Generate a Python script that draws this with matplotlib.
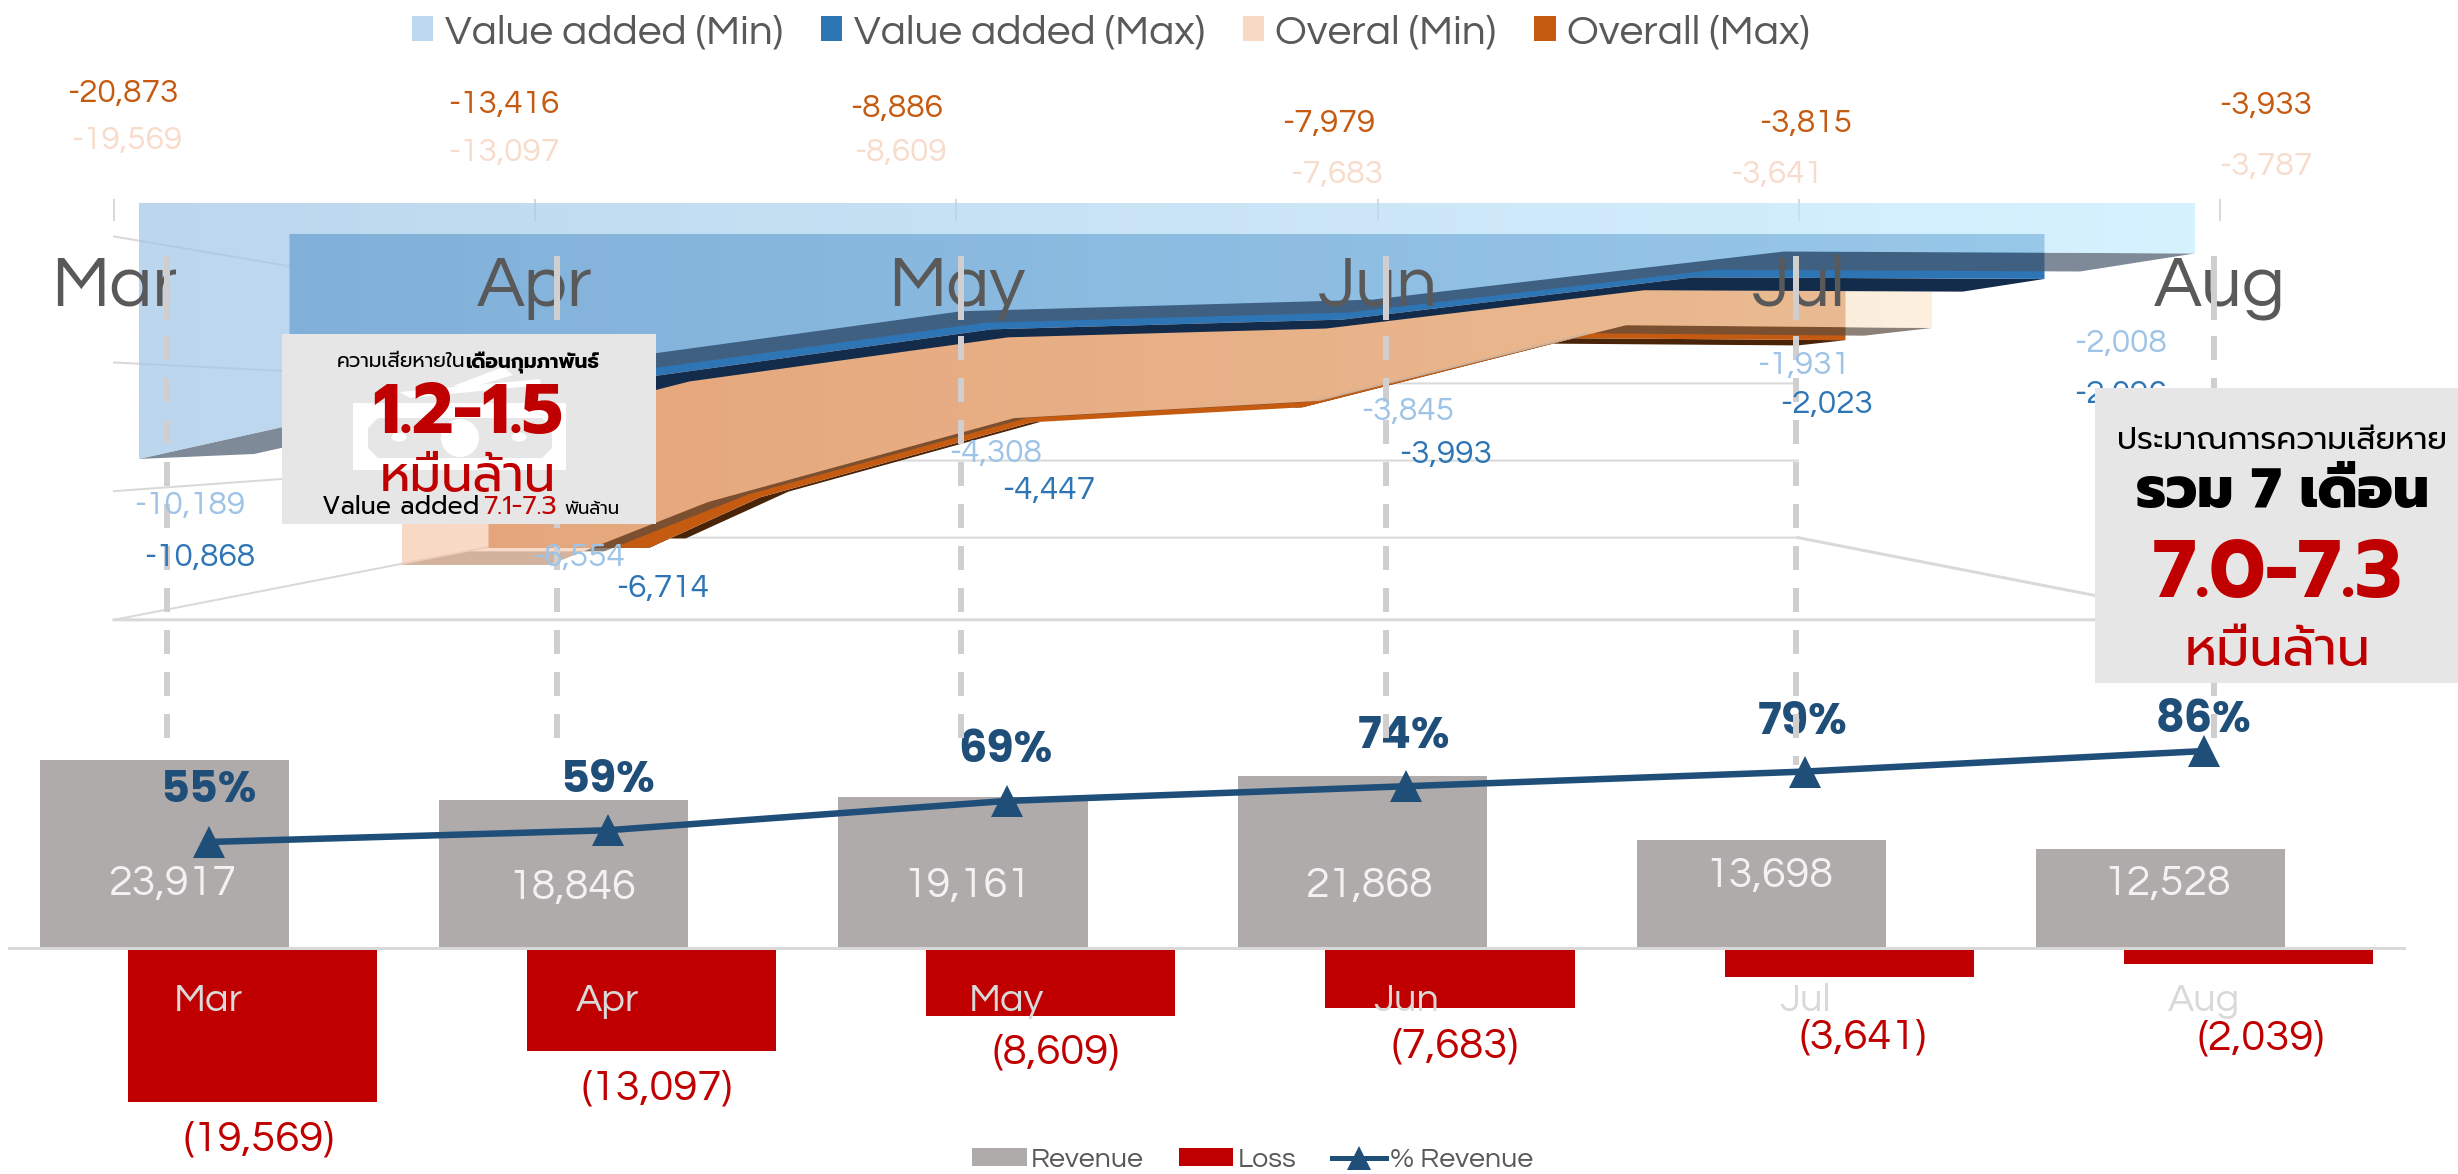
import numpy as np
import matplotlib
matplotlib.use('Agg')
import matplotlib.pyplot as plt
from matplotlib.patches import Polygon, Rectangle, Circle, Ellipse, Patch
from matplotlib.lines import Line2D

# ---------- data ----------
months = ['Mar', 'Apr', 'May', 'Jun', 'Jul', 'Aug']
revenue = [23917, 18846, 19161, 21868, 13698, 12528]
loss = [-19569, -13097, -8609, -7683, -3641, -2039]
pct_revenue = [55, 59, 69, 74, 79, 86]
va_min = [-10189, -6554, -4308, -3845, -1931, -2008]
va_max = [-10868, -6714, -4447, -3993, -2023, -2096]
overall_min = [-19569, -13097, -8609, -7683, -3641, -3787]
overall_max = [-20873, -13416, -8886, -7979, -3815, -3933]
grid_values = [1500, 6400, 11400, 16400]
floor_value = 16450

# ---------- fonts / figure ----------
W_PX, H_PX = 2458, 1174
GOTH = ['Questrial', 'Didact Gothic', 'Lato']
BOLD = ['Poppins', 'Lato']
THAI = ['Prompt', 'Kanit', 'DejaVu Sans']
plt.rcParams['font.family'] = GOTH
fig = plt.figure(figsize=(W_PX / 100, H_PX / 100), dpi=100, facecolor='white')
px = 0.72  # points per pixel at dpi 100


def pixel_axes(z):
    a = fig.add_axes([0, 0, 1, 1], zorder=z)
    a.set_axis_off()
    a.patch.set_alpha(0)
    a.set_xlim(0, W_PX)
    a.set_ylim(H_PX, 0)
    return a


ax3d = pixel_axes(1)
ax_top = pixel_axes(5)

# ---------- perspective of the 3-D area chart ----------
CX, W0, TOP0, K, S0 = 1167, 2056, 203, 0.103, 0.02512 / 2056


def plane(W):
    return CX - W / 2, W / 5, TOP0 + (W0 - W) * K, S0 * W


def bottom_edge(series, W):
    left, step, top, scale = plane(W)
    t = np.linspace(0, 5, 1001)
    v = np.minimum(np.interp(t, np.arange(6), np.abs(series)), floor_value)
    return np.column_stack([left + step * t, top + scale * v])


def wall_y(val, W):
    _, _, top, scale = plane(W)
    return top + scale * val


def ribbon_front(series, W):
    left, step, top, _ = plane(W)
    e = bottom_edge(series, W)
    return np.vstack([[left, top], [left + 5 * step, top], e[::-1]])


def ribbon_under(series, W, Wb):
    return np.vstack([bottom_edge(series, W), bottom_edge(series, Wb)[::-1]])


def grad_poly(ax, verts, c0, c1, alpha, z):
    x0, x1 = verts[:, 0].min(), verts[:, 0].max()
    y0, y1 = verts[:, 1].min(), verts[:, 1].max()
    arr = np.zeros((2, 256, 4))
    for c in range(3):
        arr[:, :, c] = np.linspace(c0[c], c1[c], 256) / 255
    arr[:, :, 3] = alpha
    im = ax.imshow(arr, extent=(x0, x1, y1, y0), aspect='auto', zorder=z,
                   interpolation='bilinear')
    p = Polygon(verts, closed=True, transform=ax.transData, fc='none', ec='none')
    im.set_clip_path(p)


# walls
GRID = '#D9D9D9'
WF, WB = 2106, 1262
lf, _, _, _ = plane(WF)
lb, _, _, _ = plane(WB)
rb, rf = 2 * CX - lb, 2 * CX - lf
for g in grid_values:
    ax3d.plot([lf, lb, rb], [wall_y(g, WF), wall_y(g, WB), wall_y(g, WB)],
              color=GRID, lw=2 * px, zorder=1, solid_joinstyle='miter')
ax3d.plot([rb, rf, lf], [wall_y(grid_values[-1], WB), wall_y(grid_values[-1], WF),
                         wall_y(grid_values[-1], WF)],
          color=GRID, lw=3 * px, zorder=1)
# axis ticks at the top
for i in range(6):
    x = lf + i * WF / 5
    ax3d.plot([x, x], [200, 220], color=GRID, lw=2 * px, zorder=1)

# ribbons, back to front
ax3d.add_patch(Polygon(ribbon_under(overall_max, 1357, 1262), fc='#4A2408', ec='none', zorder=2))
ax3d.add_patch(Polygon(ribbon_front(overall_max, 1357), fc='#C55A11', ec='none', zorder=3))
ax3d.add_patch(Polygon(ribbon_under(overall_min, 1530, 1394), fc=(91/255, 76/255, 62/255, .7), ec='none', zorder=4))
grad_poly(ax3d, ribbon_front(overall_min, 1530), (245, 200, 172), (252, 233, 208), .69, 5)
ax3d.add_patch(Polygon(ribbon_under(va_max, 1755, 1591), fc='#132C4C', ec='none', zorder=6))
ax3d.add_patch(Polygon(ribbon_front(va_max, 1755), fc='#2E75B6', ec='none', zorder=7))
ax3d.add_patch(Polygon(ribbon_under(va_min, 2056, 1826), fc=(72/255, 88/255, 108/255, .7), ec='none', zorder=8))
grad_poly(ax3d, ribbon_front(va_min, 2056), (161, 198, 231), (199, 237, 255), .71, 9)
ax3d.set_xlim(0, W_PX)
ax3d.set_ylim(H_PX, 0)

# big month labels of the 3-D chart
for i, m in enumerate(months):
    ax3d.text(lf + i * WF / 5, 287, m, fontsize=52, color='#595959', ha='center',
              va='center', zorder=10)


def T(x, y, s, size, color, fam=GOTH, weight='normal', ha='center', z=4, a=ax_top, va='center'):
    return a.text(x, y, s, fontsize=size, color=color, family=fam, fontweight=weight,
                  ha=ha, va=va, zorder=z)


# ---------- dashed guides ----------
DASH = '#D0CECE'
guide_x = [167, 557, 961, 1386, 1796, 2214]
guide_end = [740, 740, 740, 746, 765, 740]
for x, y1 in zip(guide_x, guide_end):
    ax_top.plot([x, x], [256, 320], color=DASH, lw=6 * px, solid_capstyle='butt', zorder=3)
    ax_top.plot([x, x], [336, y1], color=DASH, lw=6 * px, zorder=3,
                linestyle=(0, (4, 3)), dash_capstyle='butt')

# ---------- labels of the 3-D chart ----------
FS = 24
omax_xy = [(123, 94), (504, 105), (897, 109), (1329, 124), (1806, 124), (2266, 106)]
omin_xy = [(127, 141), (504, 153), (900, 153), (1337, 175), (1777, 175), (2266, 167)]
vmin_xy = [(190, 506), (579, 558), (996, 454), (1408, 412), (1804, 366), (2121, 344)]
vmax_xy = [(200, 558), (663, 589), (1049, 491), (1446, 455), (1827, 405), (2121, 395)]
for series, xy, col in [(overall_max, omax_xy, '#C55A11'), (overall_min, omin_xy, '#F8DCCB'),
                        (va_min, vmin_xy, '#9DC3E6'), (va_max, vmax_xy, '#2E75B6')]:
    for v, (x, y) in zip(series, xy):
        T(x, y, f'{v:,}', FS, col)

# ---------- bars and line ----------
ZERO_Y, PX_UNIT, A_TOP, A_BOT = 948, 0.00787, 700, 1120
ax_b = fig.add_axes([9 / W_PX, 1 - A_BOT / H_PX, 2395 / W_PX, (A_BOT - A_TOP) / H_PX], zorder=2)
ax_b.patch.set_alpha(0)
ax_b.set_xlim(0, 6)
ax_b.set_ylim(-(A_BOT - ZERO_Y) / PX_UNIT, (ZERO_Y - A_TOP) / PX_UNIT)
xc = np.arange(6) + 0.5
ax_b.bar(xc - 0.11, revenue, width=0.624, color='#AFABAB', zorder=1, label='Revenue')
ax_b.bar(xc + 0.11, loss, width=0.624, color='#C00000', zorder=1, label='Loss')
for s in ['top', 'left', 'right']:
    ax_b.spines[s].set_visible(False)
ax_b.spines['bottom'].set_position(('data', 0))
ax_b.spines['bottom'].set_color(GRID)
ax_b.spines['bottom'].set_linewidth(3 * px)
ax_b.set_yticks([])
ax_b.set_xticks(xc, months)
ax_b.tick_params(axis='x', length=0, pad=25, labelsize=28.5, labelcolor='#D9D9D9')

ax_l = ax_b.twinx()
ax_l.set_zorder(3)
ax_l.patch.set_alpha(0)
ax_l.set_axis_off()
PCT_PX = 2.935
ax_l.set_ylim(55 - (A_BOT - 842) / PCT_PX, 55 + (842 - A_TOP) / PCT_PX)
ax_l.plot(xc, pct_revenue, color='#1F4E79', lw=6.5 * px, marker='^', ms=32 * px, mew=0, zorder=5)

rev_xy = [(172, 885), (572, 888), (967, 886), (1369, 886), (1769, 876), (2167, 885)]
for v, (x, y) in zip(revenue, rev_xy):
    T(x, y, f'{v:,}', 31, '#F2F2F2')
loss_xy = [(259, 1140), (657, 1089), (1056, 1053), (1455, 1047), (1863, 1038), (2261, 1039)]
for v, (x, y) in zip(loss, loss_xy):
    T(x, y, f'({abs(v):,})', 31.5, '#C00000')
pct_xy = [(208, 792), (608, 781), (1005, 752), (1404, 737), (1803, 723), (2203, 721)]
for v, (x, y) in zip(pct_revenue, pct_xy):
    T(x, y, f'{v}%', 32, '#1F4E79', fam=BOLD, weight='bold', z=2)

# ---------- legends ----------
h_top = [Patch(fc='#BDD7EE'), Patch(fc='#2E75B6'), Patch(fc='#F8D9C5'), Patch(fc='#C55A11')]
leg = fig.legend(h_top, ['Value added (Min)', 'Value added (Max)', 'Overal (Min)', 'Overall (Max)'],
                 ncol=4, loc='center', bbox_to_anchor=(1111 / W_PX, 1 - 33 / H_PX), frameon=False,
                 fontsize=30.5, labelcolor='#595959', handlelength=0.5, handleheight=0.5,
                 handletextpad=0.27, columnspacing=0.9, borderpad=0, borderaxespad=0)
h_bot = [Patch(fc='#AFABAB'), Patch(fc='#C00000'),
         Line2D([], [], color='#1F4E79', lw=5 * px, marker='^', ms=24 * px, mew=0)]
leg2 = fig.legend(h_bot, ['Revenue', 'Loss', '% Revenue'], ncol=3, loc='center',
                  bbox_to_anchor=(1253 / W_PX, 1 - 1160 / H_PX), frameon=False, fontsize=20.5,
                  labelcolor='#595959', handlelength=1.9, handleheight=0.6, handletextpad=0.15,
                  columnspacing=1.25, borderpad=0, borderaxespad=0)

# ---------- left call-out ----------
BOX = '#E7E6E6'
ax_top.add_patch(Rectangle((282, 334), 374, 190, fc=BOX, ec='none', zorder=5))
# banknote icon behind the text
ax_top.add_patch(Rectangle((353, 403), 213, 67, fc='white', ec='none', zorder=5.1))
ax_top.add_patch(Polygon([(368, 428), (378, 418), (542, 418), (552, 428), (552, 448), (542, 458),
                          (378, 458), (368, 448)], fc=BOX, ec='none', zorder=5.2))
ax_top.add_patch(Circle((460, 438), 19, fc='white', ec='none', zorder=5.3))
ax_top.add_patch(Ellipse((399, 437), 15, 9, fc='white', ec='none', zorder=5.3))
ax_top.add_patch(Ellipse((519, 437), 15, 9, fc='white', ec='none', zorder=5.3))
ax_top.add_patch(Polygon([(400, 392), (540, 379), (541, 385), (410, 398)], fc='white', ec='none', zorder=5.1))
ax_top.add_patch(Polygon([(453, 386), (503, 367), (513, 375), (470, 388)], fc='white', ec='none', zorder=5.1))
T(465, 360, 'ความเสียหายใน', 14.5, 'black', fam=THAI, ha='right', z=6, va='center_baseline')
T(465, 360, 'เดือนกุมภาพันธ์', 14.5, 'black', fam=THAI, weight='bold', ha='left', z=6, va='center_baseline')
T(468, 414, '1.2-1.5', 51, '#C00000', fam=THAI, weight='bold', z=6)
T(468, 473, 'หมื่นล้าน', 36, '#C00000', fam=THAI, z=6, va='center_baseline')
T(322, 507, 'Value added', 18, 'black', fam=THAI, ha='left', z=6)
T(483, 507, '7.1-7.3', 19, '#C00000', fam=THAI, ha='left', z=6)
T(564, 507, 'พันล้าน', 13, 'black', fam=THAI, ha='left', z=6, va='center_baseline')

# ---------- right call-out ----------
ax_top.add_patch(Rectangle((2095, 388), 363, 295, fc=BOX, ec='none', zorder=5))
T(2282, 437, 'ประมาณการความเสียหาย', 22.5, 'black', fam=THAI, z=6, va='center_baseline')
T(2282, 486, 'รวม 7 เดือน', 40.5, 'black', fam=THAI, weight=800, z=6, va='center_baseline')
T(2278, 577, '7.0-7.3', 58, '#C00000', fam=THAI, weight='bold', z=6)
T(2278, 645, 'หมื่นล้าน', 38, '#C00000', fam=THAI, z=6, va='center_baseline')

fig.savefig('out.png', dpi=100, facecolor='white')
